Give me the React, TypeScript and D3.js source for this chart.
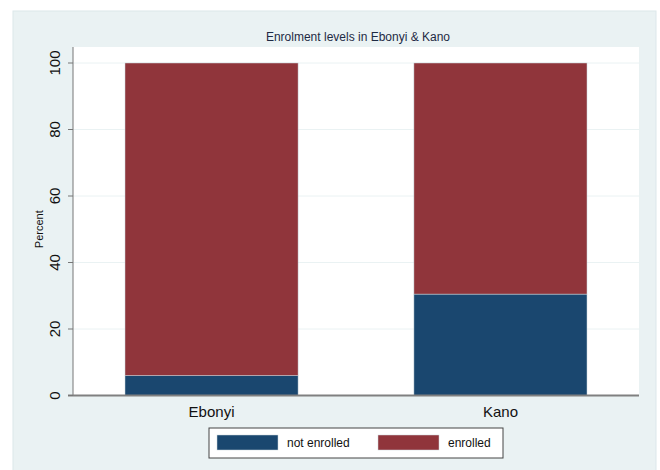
import React from "react";
import * as d3 from "d3";

const categories = ["Ebonyi", "Kano"];
const notEnrolled = [6, 30.5];
const enrolled = [94, 69.5];
const seriesNames = ["not enrolled", "enrolled"];
const yTicks = [0, 20, 40, 60, 80, 100];

const W = 660, H = 470;
const plot = { left: 73, right: 639, top: 47, bottom: 395.5 };
const BLUE = "#1a476f";
const RED = "#90353b";
const BG = "#eaf2f3";

export default function App() {
  const x = d3.scaleBand<string>().domain(categories).range([plot.left, plot.right]).paddingInner(0.401).paddingOuter(0.18);
  const y = d3.scaleLinear().domain([0, 100]).range([plot.bottom, 63]);
  const rows = categories.map((c, i) => ({ cat: c, ne: notEnrolled[i], en: enrolled[i] }));
  const stack = d3.stack<any>().keys(["ne", "en"])(rows);
  const colors = [BLUE, RED];
  const font = "Liberation Sans, Arial, sans-serif";
  return (
    <svg width={W} height={H} style={{ position: "absolute", left: 0, top: 0 }} fontFamily={font}>
      <rect x={0} y={0} width={W} height={H} fill="#ffffff" />
      <rect x={13} y={11} width={643} height={470} fill={BG} stroke="#dce7ea" strokeWidth={1} />
      <rect x={plot.left} y={plot.top} width={plot.right - plot.left} height={plot.bottom - plot.top} fill="#ffffff" />
      {yTicks.filter(t => t > 0).map(t => (
        <line key={t} x1={plot.left} x2={plot.right} y1={y(t)} y2={y(t)} stroke={BG} strokeWidth={1} />
      ))}
      {stack.map((s, si) => s.map((d, i) => (
        <rect key={si + "-" + i} x={x(categories[i])!} width={x.bandwidth()} y={y(d[1])} height={y(d[0]) - y(d[1])}
          fill={colors[si]} stroke="#c9d6dc" strokeWidth={0.5} />
      )))}
      <line x1={plot.left} x2={plot.left} y1={plot.top} y2={plot.bottom} stroke="#777" strokeWidth={1} />
      <line x1={plot.left - 5} x2={plot.right} y1={plot.bottom} y2={plot.bottom} stroke="#808080" strokeWidth={1.8} />
      {yTicks.map(t => (
        <g key={t}>
          <line x1={plot.left - 5} x2={plot.left} y1={y(t)} y2={y(t)} stroke="#777" strokeWidth={1} />
          <text transform={`translate(60,${y(t)}) rotate(-90)`} textAnchor="middle" fontSize={15} fill="#111">{t}</text>
        </g>
      ))}
      <text transform={`translate(43,${(y(0) + y(100)) / 2}) rotate(-90)`} textAnchor="middle" fontSize={11} fill="#111">Percent</text>
      {categories.map(c => (
        <text key={c} x={x(c)! + x.bandwidth() / 2} y={417} textAnchor="middle" fontSize={15} fill="#111">{c}</text>
      ))}
      <text x={(plot.left + plot.right) / 2 + 2} y={41} textAnchor="middle" fontSize={12} fill="#1e2a44">Enrolment levels in Ebonyi &amp; Kano</text>
      <rect x={209} y={428} width={294} height={30} fill="#ffffff" stroke="#444" strokeWidth={1} />
      {seriesNames.map((n, i) => {
        const sx = i === 0 ? 217 : 378;
        return (
          <g key={n}>
            <rect x={sx} y={435} width={61} height={15} fill={colors[i]} stroke="#c9d6dc" strokeWidth={0.5} />
            <text x={sx + 70} y={447} fontSize={12} fill="#111">{n}</text>
          </g>
        );
      })}
    </svg>
  );
}
